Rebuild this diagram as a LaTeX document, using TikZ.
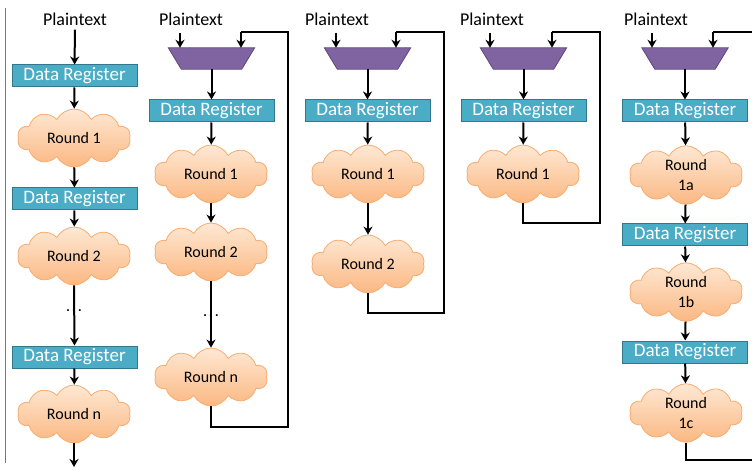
\documentclass[tikz,border=0pt]{standalone}
\usepackage{fontspec}
\setmainfont{Carlito}
\usetikzlibrary{shapes.symbols,arrows.meta,calc}
\definecolor{regfill}{RGB}{75,172,198}
\definecolor{regedge}{RGB}{49,120,140}
\definecolor{muxfill}{RGB}{128,100,162}
\definecolor{muxedge}{RGB}{92,71,118}
\definecolor{cloudtop}{RGB}{254,232,212}
\definecolor{cloudbot}{RGB}{251,184,130}
\definecolor{cloudedge}{RGB}{247,172,112}
\definecolor{divider}{RGB}{120,120,120}

% outline of a selector block drawn over its (invisible) node
\newcommand\muxoutline[1]{%
  \filldraw[draw=muxedge, line width=0.8pt, fill=muxfill]
    (#1.north west) -- (#1.north east) -- ($(#1.south east)+(-13,0)$)
    -- ($(#1.south west)+(13,0)$) -- cycle;}

\begin{document}
\begin{tikzpicture}[x=1pt,y=-1pt,
  reg/.style={draw=regedge, line width=1pt, fill=regfill, text=white,
    minimum width=125pt, minimum height=22pt, inner sep=0pt,
    font=\fontsize{19}{19}\selectfont},
  mux/.style={rectangle, minimum width=86pt, minimum height=21pt, inner sep=0pt},
  roundcloud/.style={cloud, cloud puffs=10, cloud puff arc=125, aspect=2,
    minimum width=113pt, minimum height=58pt, draw=cloudedge, line width=0.8pt,
    top color=cloudtop, bottom color=cloudbot, inner sep=0pt,
    font=\fontsize{16}{20}\selectfont, align=center},
  lbl/.style={font=\fontsize{18}{18}\selectfont, inner sep=4pt},
  dots/.style={font=\fontsize{14}{14}\selectfont, inner sep=0pt},
  flow/.style={line width=2pt, -{Stealth[length=8pt,width=9pt,inset=2.5pt]}},
  wire/.style={line width=2pt},
]
\useasboundingbox (0,0) rectangle (752,470);

% divider at the left edge
\draw[divider, line width=0.8pt] (5,8) -- (5,463);

% ---- unrolled pipeline ----
\node[lbl] (p1) at (75,19) {Plaintext};
\node[reg] (r1a) at (74.5,76) {Data Register};
\node[roundcloud] (c1a) at (74,138) {Round 1};
\node[reg] (r1b) at (74.5,199) {Data Register};
\node[roundcloud] (c1b) at (74,256) {Round 2};
\node[dots] (d1) at (74,312) {·\,·\,·};
\node[reg] (r1c) at (74.5,357) {Data Register};
\node[roundcloud] (c1c) at (74,414) {Round n};
\coordinate (o1) at (74,467);
\draw[flow] (p1) -- (r1a);
\draw[flow] (r1a) -- (c1a);
\draw[flow] (c1a) -- (r1b);
\draw[flow] (r1b) -- (c1b);
\draw[flow] (c1b.south) -- (r1c.north);
\draw[flow] (r1c) -- (c1c);
\draw[flow] (c1c.south) -- (o1);

% ---- n rounds with feedback ----
\node[lbl] (p2) at (191,19) {Plaintext};
\node[mux] (m2) at (211.5,58.5) {};
\muxoutline{m2}
\node[reg] (r2a) at (211.5,111) {Data Register};
\node[roundcloud] (c2a) at (211,174) {Round 1};
\node[roundcloud] (c2b) at (211,252) {Round 2};
\node[dots] (d2) at (211,317) {·\,·\,·};
\node[roundcloud] (c2c) at (211,377) {Round n};
\coordinate (i2) at (180,33);
\coordinate (f2a) at (211,427);
\coordinate (f2b) at (288,427);
\coordinate (f2c) at (288,32);
\coordinate (f2d) at (241,32);
\draw[flow] (i2) -- (i2 |- m2.north);
\draw[flow] (m2) -- (r2a);
\draw[flow] (r2a) -- (c2a);
\draw[flow] (c2a) -- (c2b);
\draw[flow] (c2b.south) -- (c2c.north);
\draw[wire] (c2c.south) -- (f2a) -- (f2b) -- (f2c) -- (f2d);
\draw[flow] (f2d) -- (f2d |- m2.north);

% ---- two rounds with feedback ----
\node[lbl] (p3) at (337,19) {Plaintext};
\node[mux] (m3) at (367.5,58.5) {};
\muxoutline{m3}
\node[reg] (r3a) at (367.5,111) {Data Register};
\node[roundcloud] (c3a) at (368,174) {Round 1};
\node[roundcloud] (c3b) at (368,264) {Round 2};
\coordinate (i3) at (336,33);
\coordinate (f3a) at (368,313);
\coordinate (f3b) at (444,313);
\coordinate (f3c) at (444,32);
\coordinate (f3d) at (396,32);
\draw[flow] (i3) -- (i3 |- m3.north);
\draw[flow] (m3) -- (r3a);
\draw[flow] (r3a) -- (c3a);
\draw[flow] (c3a) -- (c3b);
\draw[wire] (c3b.south) -- (f3a) -- (f3b) -- (f3c) -- (f3d);
\draw[flow] (f3d) -- (f3d |- m3.north);

% ---- single round with feedback ----
\node[lbl] (p4) at (492,19) {Plaintext};
\node[mux] (m4) at (523.5,58.5) {};
\muxoutline{m4}
\node[reg] (r4a) at (523.5,111) {Data Register};
\node[roundcloud] (c4a) at (523,174) {Round 1};
\coordinate (i4) at (490,33);
\coordinate (f4a) at (523,223);
\coordinate (f4b) at (600,223);
\coordinate (f4c) at (600,32);
\coordinate (f4d) at (552,32);
\draw[flow] (i4) -- (i4 |- m4.north);
\draw[flow] (m4) -- (r4a);
\draw[flow] (r4a) -- (c4a);
\draw[wire] (c4a.south) -- (f4a) -- (f4b) -- (f4c) -- (f4d);
\draw[flow] (f4d) -- (f4d |- m4.north);

% ---- split round with feedback ----
\node[lbl] (p5) at (656,19) {Plaintext};
\node[mux] (m5) at (685,58.5) {};
\muxoutline{m5}
\node[reg] (r5a) at (685,111) {Data Register};
\node[roundcloud] (c5a) at (686,175) {Round\\1a};
\node[reg] (r5b) at (685,235) {Data Register};
\node[roundcloud] (c5b) at (686,292) {Round\\1b};
\node[reg] (r5c) at (685,352) {Data Register};
\node[roundcloud] (c5c) at (686,413) {Round\\1c};
\coordinate (i5) at (652,33);
\coordinate (f5a) at (686,460);
\coordinate (f5b) at (752,460);
\coordinate (f5c) at (752,32);
\coordinate (f5d) at (713,32);
\draw[flow] (i5) -- (i5 |- m5.north);
\draw[flow] (m5) -- (r5a);
\draw[flow] (r5a) -- (c5a);
\draw[flow] (c5a) -- (r5b);
\draw[flow] (r5b) -- (c5b);
\draw[flow] (c5b) -- (r5c);
\draw[flow] (r5c) -- (c5c);
\draw[wire] (c5c.south) -- (f5a) -- (f5b);
\draw[wire] (f5c) -- (f5d);
\draw[flow] (f5d) -- (f5d |- m5.north);
\end{tikzpicture}
\end{document}
